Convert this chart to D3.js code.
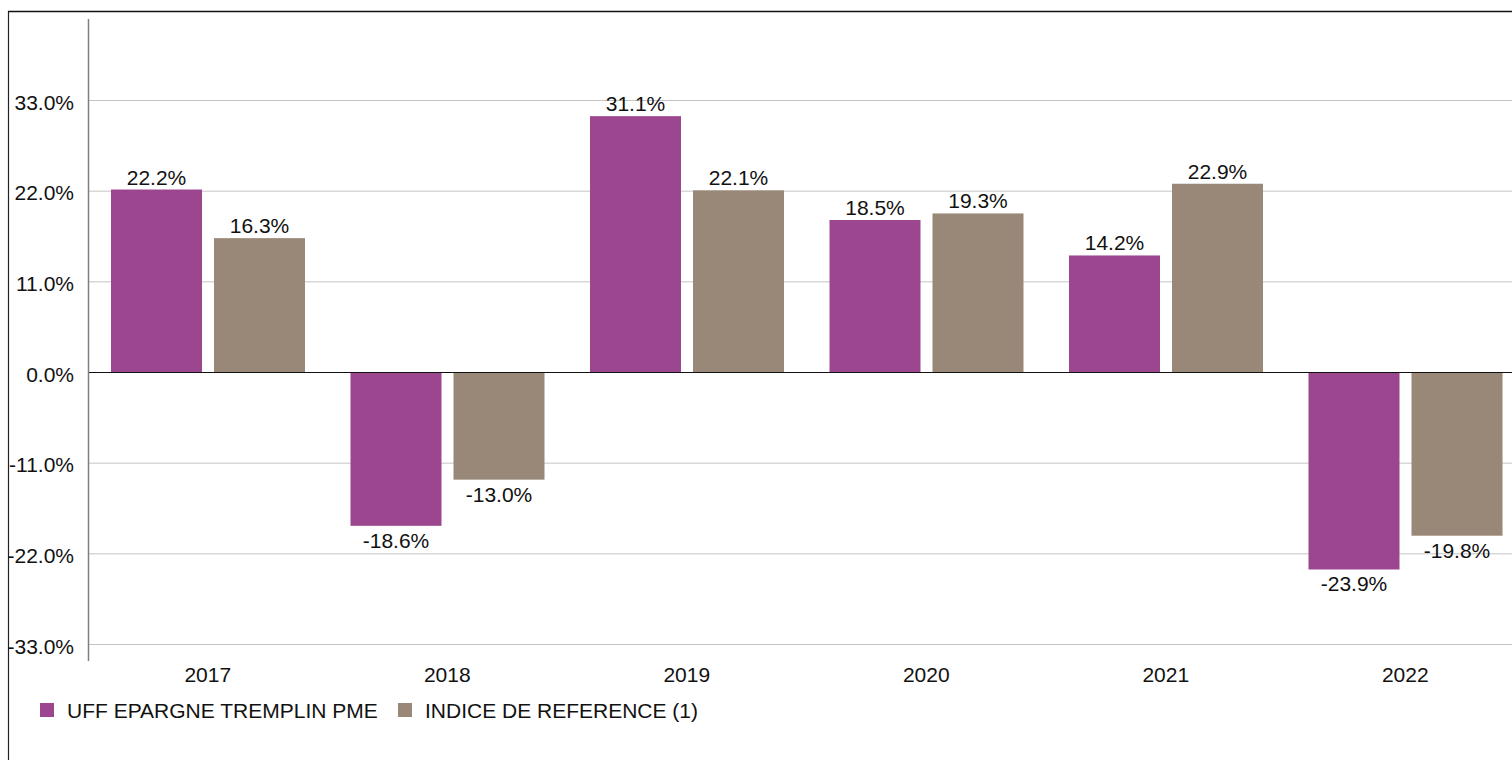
<!DOCTYPE html>
<html>
<head>
<meta charset="utf-8">
<script src="https://cdn.jsdelivr.net/npm/d3@7"></script>
<style>
  body { margin: 0; background: #fff; }
  svg { display: block; font-family: "Liberation Sans", Arial, sans-serif; }
</style>
</head>
<body>
<svg width="1512" height="760"></svg>
<script>
const years = ["2017", "2018", "2019", "2020", "2021", "2022"]
const seriesNames = ["UFF EPARGNE TREMPLIN PME", "INDICE DE REFERENCE (1)"]
const fundValues = [22.2, -18.6, 31.1, 18.5, 14.2, -23.9]
const indexValues = [16.3, -13.0, 22.1, 19.3, 22.9, -19.8]
const yTicks = [-33, -22, -11, 0, 11, 22, 33]
const colors = ["#9d4690", "#998877"]

const rows = years.map((y, i) => ({ year: y, values: [fundValues[i], indexValues[i]] }))

const svg = d3.select("svg")
const fmt = d => d3.format(".1f")(d).replace("\u2212", "-") + "%"

const yScale = d3.scaleLinear()
  .domain([-33, 33])
  .range([644.5, 100.5])

const x0 = d3.scaleBand()
  .domain(years)
  .range([88, 1525])

const x1 = d3.scaleBand()
  .domain([0, 1])
  .range([23, 217])
  .paddingInner(0.1165)

// outer frame
svg.append("line")
  .attr("x1", 8.5).attr("x2", 8.5).attr("y1", 11).attr("y2", 760)
  .style("stroke", "#222").style("stroke-width", 1.2)
svg.append("line")
  .attr("x1", 8).attr("x2", 1512).attr("y1", 11.5).attr("y2", 11.5)
  .style("stroke", "#111").style("stroke-width", 1.4)

// gridlines
svg.append("g")
  .selectAll("line")
  .data(yTicks.filter(d => d !== 0))
  .enter()
  .append("line")
  .attr("x1", 88).attr("x2", 1512)
  .attr("y1", d => yScale(d)).attr("y2", d => yScale(d))
  .style("stroke", "#c4c4c4")
  .style("stroke-width", 1)

// tick labels
svg.append("g")
  .selectAll("text")
  .data(yTicks)
  .enter()
  .append("text")
  .attr("x", 74)
  .attr("y", d => yScale(d) + 9)
  .attr("text-anchor", "end")
  .style("font-size", "21px")
  .style("fill", "#111")
  .text(fmt)

// bars
const groups = svg.append("g")
  .selectAll("g")
  .data(rows)
  .enter()
  .append("g")
  .attr("transform", d => `translate(${x0(d.year)},0)`)

groups.selectAll("rect")
  .data(d => d.values)
  .enter()
  .append("rect")
  .attr("x", (d, i) => x1(i))
  .attr("width", x1.bandwidth())
  .attr("y", d => yScale(Math.max(0, d)))
  .attr("height", d => Math.abs(yScale(d) - yScale(0)))
  .style("fill", (d, i) => colors[i])

groups.selectAll("text")
  .data(d => d.values)
  .enter()
  .append("text")
  .attr("x", (d, i) => x1(i) + x1.bandwidth() / 2)
  .attr("y", d => d >= 0 ? yScale(d) - 5 : yScale(d) + 22)
  .attr("text-anchor", "middle")
  .style("font-size", "21px")
  .style("fill", "#111")
  .text(fmt)

// zero line
svg.append("line")
  .attr("x1", 88).attr("x2", 1512)
  .attr("y1", yScale(0)).attr("y2", yScale(0))
  .style("stroke", "#111").style("stroke-width", 1.2)

// y axis line
svg.append("line")
  .attr("x1", 88.5).attr("x2", 88.5)
  .attr("y1", yScale(42.9)).attr("y2", yScale(-35))
  .style("stroke", "#808080").style("stroke-width", 1.5)

// category labels
svg.append("g")
  .selectAll("text")
  .data(years)
  .enter()
  .append("text")
  .attr("x", d => x0(d) + x0.bandwidth() / 2)
  .attr("y", 682)
  .attr("text-anchor", "middle")
  .style("font-size", "21px")
  .style("fill", "#111")
  .text(d => d)

// legend
const legendX = [40, 398]
const legend = svg.append("g")
  .selectAll("g")
  .data(seriesNames)
  .enter()
  .append("g")
  .attr("transform", (d, i) => `translate(${legendX[i]},703)`)
legend.append("rect")
  .attr("width", 14).attr("height", 14)
  .style("fill", (d, i) => colors[i])
legend.append("text")
  .attr("x", 27).attr("y", 14.5)
  .style("font-size", "21px")
  .style("fill", "#111")
  .text(d => d)
</script>
</body>
</html>
